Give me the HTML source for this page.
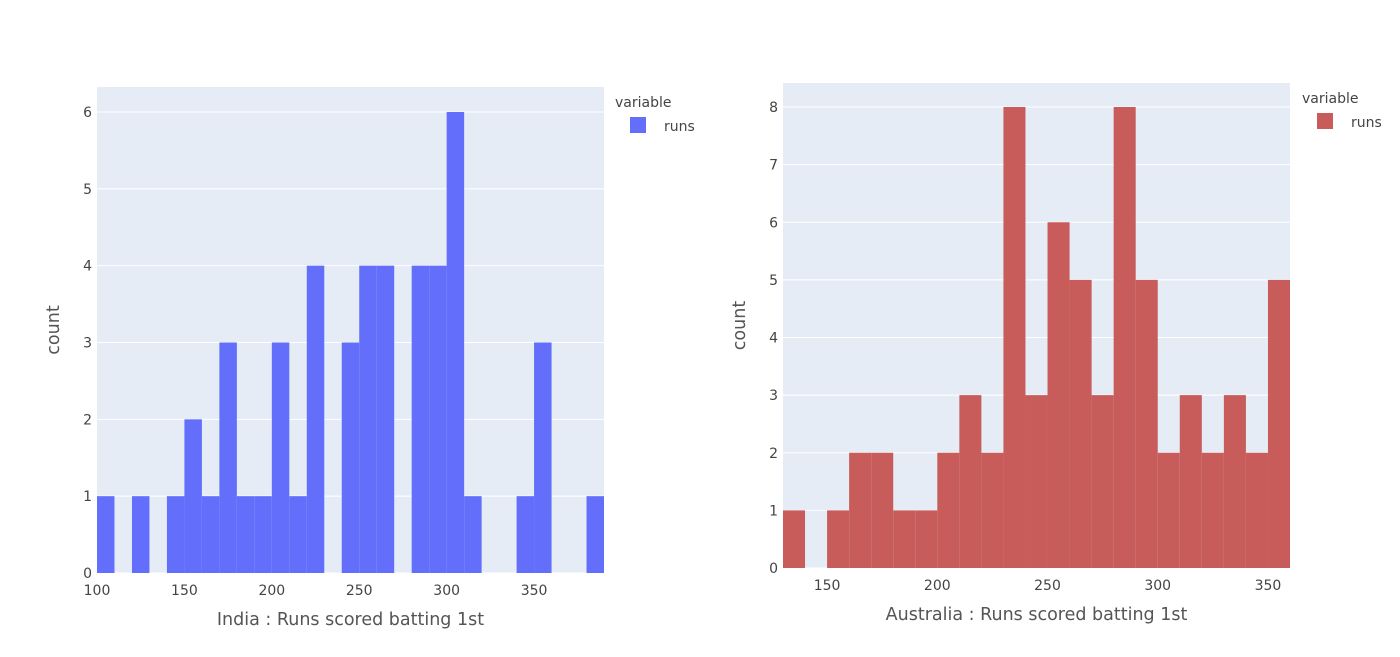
<!DOCTYPE html>
<html><head><meta charset="utf-8"><style>
body{margin:0;background:#fff;}
svg{display:block;font-family:"DejaVu Sans","Liberation Sans",sans-serif;}
</style></head><body>
<svg id="s" width="1400" height="657">
</svg>
<script>
const indiaBins=[100,110,120,130,140,150,160,170,180,190,200,210,220,230,240,250,260,270,280,290,300,310,320,330,340,350,360,370,380];
const indiaCounts=[1,0,1,0,1,2,1,3,1,1,3,1,4,0,3,4,4,0,4,4,6,1,0,0,1,3,0,0,1];
const indiaXTicks=[100,150,200,250,300,350];
const indiaYTicks=[0,1,2,3,4,5,6];
const ausBins=[130,140,150,160,170,180,190,200,210,220,230,240,250,260,270,280,290,300,310,320,330,340,350];
const ausCounts=[1,0,1,2,2,1,1,2,3,2,8,3,6,5,3,8,5,2,3,2,3,2,5];
const ausXTicks=[150,200,250,300,350];
const ausYTicks=[0,1,2,3,4,5,6,7,8];
const binWidth=10;
const NS="http://www.w3.org/2000/svg";
const svg=document.getElementById('s');
function mk(tag,attrs,parent){const e=document.createElementNS(NS,tag);for(const k in attrs)e.setAttribute(k,attrs[k]);(parent||svg).appendChild(e);return e;}
function chart(cfg){
  const g=mk('g',{});
  
  
  const x=v=>cfg.x0+(v-cfg.xmin)/(cfg.xmax-cfg.xmin)*(cfg.x1-cfg.x0);
  const y=v=>cfg.y0-(v/cfg.ymaxUnit)*(cfg.y0-cfg.yUnitPx);
  const bg=mk('rect',{x:cfg.x0,y:cfg.top,width:cfg.x1-cfg.x0,height:cfg.y0-cfg.top,fill:'#e5ecf6'},g);
  
  
  cfg.yTicks.forEach(t=>{
    const l=mk('line',{x1:cfg.x0,x2:cfg.x1,y1:y(t),y2:y(t),stroke:'#fff','stroke-width':1},g);
    
    
    const tx=mk('text',{x:cfg.x0-5,y:y(t)+5,'text-anchor':'end','font-size':14,fill:'#444'},g);
    tx.textContent=t;
    
    
  });
  cfg.bins.forEach((b,i)=>{
    if(!cfg.counts[i])return;
    const r=mk('rect',{x:x(b),y:y(cfg.counts[i]),width:x(b+binWidth)-x(b),height:y(0)-y(cfg.counts[i]),fill:cfg.color},g);
    
    
  });
  cfg.xTicks.forEach(t=>{
    const tx=mk('text',{x:x(t),y:cfg.y0+22,'text-anchor':'middle','font-size':14,fill:'#444'},g);
    tx.textContent=t;
    
    
  });
  const xt=mk('text',{x:(cfg.x0+cfg.x1)/2,y:cfg.y0+52,'text-anchor':'middle','font-size':17.5,fill:'#555'},g);
  xt.textContent=cfg.xTitle;
  
  
  const cy=(cfg.top+cfg.y0)/2;
  const yt=mk('text',{x:cfg.x0-38,y:cy,'text-anchor':'middle','font-size':17.5,fill:'#555',transform:`rotate(-90 ${cfg.x0-38} ${cy})`},g);
  yt.textContent='count';
  
  
  const lt=mk('text',{x:cfg.lx,y:cfg.ly,'font-size':14,fill:'#444'},g);
  lt.textContent='variable';
  
  
  const sw=mk('rect',{x:cfg.lx+15,y:cfg.ly+10,width:16,height:16,fill:cfg.color},g);
  
  
  const ll=mk('text',{x:cfg.lx+49,y:cfg.ly+24,'font-size':14,fill:'#444'},g);
  ll.textContent='runs';
  
  
}
chart({name:'india-histogram',x0:97,x1:604,xmin:100,xmax:390,top:87,y0:573,ymaxUnit:6,yUnitPx:112,
  bins:indiaBins,counts:indiaCounts,xTicks:indiaXTicks,yTicks:indiaYTicks,color:'#636efa',
  xTitle:'India : Runs scored batting 1st',lx:615,ly:107});
chart({name:'australia-histogram',x0:783,x1:1290,xmin:130,xmax:360,top:83,y0:568,ymaxUnit:8,yUnitPx:107,
  bins:ausBins,counts:ausCounts,xTicks:ausXTicks,yTicks:ausYTicks,color:'#c85c5a',
  xTitle:'Australia : Runs scored batting 1st',lx:1302,ly:103});
</script>
</body></html>
